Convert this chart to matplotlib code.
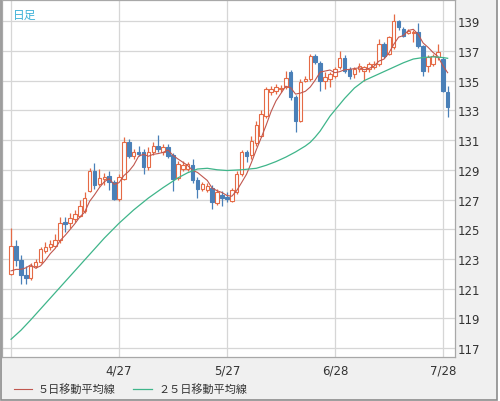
import matplotlib
matplotlib.use("Agg")
import matplotlib.pyplot as plt
from matplotlib.patches import Rectangle
from matplotlib.lines import Line2D

# daily candles (open, high, low, close)
opens = [122.0, 123.9, 122.9, 121.9, 121.7, 122.55, 122.8, 123.55, 123.8, 123.9,
         124.25, 125.5, 125.45, 125.7, 125.9, 126.25, 127.6, 128.95, 128.05, 128.4,
         128.55, 128.15, 127.05, 128.4, 130.85, 129.95, 130.2, 130.2, 129.2, 130.2,
         130.62, 130.2, 130.5, 130.0, 128.45, 129.05, 129.05, 129.3, 128.3, 127.7,
         127.65, 127.8, 126.77, 127.3, 127.2, 126.9, 127.5, 128.7, 130.18, 130.0,
         130.8, 131.3, 132.65, 134.2, 134.3, 134.4, 134.55, 135.55, 133.9, 132.3,
         135.0, 135.1, 136.67, 136.2, 135.0, 135.1, 135.32, 135.9, 136.55, 135.77,
         135.44, 135.77, 135.66, 135.77, 135.9, 136.1, 137.45, 136.8, 137.23, 139.0,
         138.46, 138.2, 138.2, 138.24, 137.34, 136.0, 136.1, 136.56, 136.45, 134.25]
highs = [125.05, 124.25, 123.25, 122.55, 122.7, 123.0, 123.8, 124.13, 124.3, 124.7,
         125.85, 125.8, 126.1, 126.3, 127.0, 127.5, 129.1, 129.45, 129.05, 128.8,
         128.95, 128.3, 128.7, 131.2, 131.05, 130.4, 130.6, 130.4, 130.5, 130.85,
         131.35, 130.7, 130.75, 130.1, 129.6, 129.6, 129.5, 129.7, 128.5, 128.2,
         128.1, 128.0, 127.7, 127.6, 127.5, 127.8, 128.9, 130.3, 130.3, 131.3,
         132.3, 133.0, 134.6, 134.65, 134.8, 134.7, 135.66, 135.7, 134.0, 135.1,
         135.3, 136.8, 136.8, 136.3, 135.6, 135.6, 135.9, 137.0, 136.7, 135.9,
         135.9, 136.15, 136.0, 136.25, 136.3, 137.8, 137.6, 138.0, 139.47, 139.1,
         138.6, 138.45, 138.4, 138.9, 137.4, 136.7, 136.8, 137.45, 136.6, 134.65]
lows = [121.9, 122.5, 121.33, 121.33, 121.6, 122.4, 122.7, 123.4, 123.6, 123.8,
        124.1, 124.8, 125.05, 125.5, 125.8, 126.1, 127.5, 127.7, 127.9, 128.0,
        127.64, 126.97, 126.9, 128.3, 129.8, 129.7, 129.9, 128.72, 129.0, 130.0,
        130.2, 130.0, 129.8, 127.6, 128.3, 128.9, 128.95, 128.1, 127.1, 127.6,
        127.5, 126.37, 126.6, 126.55, 126.8, 126.8, 127.4, 128.6, 129.5, 129.7,
        130.6, 131.2, 132.5, 134.0, 134.1, 134.2, 134.4, 133.7, 131.52, 132.2,
        134.9, 135.0, 136.1, 134.3, 134.4, 134.6, 135.2, 135.8, 135.5, 135.1,
        135.2, 135.6, 135.0, 135.6, 135.8, 136.0, 136.5, 136.7, 137.1, 138.4,
        137.9, 138.1, 137.57, 137.2, 135.3, 135.6, 136.0, 136.4, 134.2, 132.53]
closes = [123.9, 122.9, 121.9, 121.75, 122.55, 122.8, 123.65, 123.8, 124.0, 124.3,
          125.45, 125.35, 125.75, 126.0, 126.55, 127.1, 128.95, 127.95, 128.45, 128.5,
          128.15, 127.05, 128.5, 130.85, 129.95, 130.18, 130.06, 129.17, 130.2, 130.6,
          130.4, 130.5, 129.95, 128.4, 129.4, 129.3, 129.4, 128.3, 127.7, 128.05,
          127.93, 126.8, 127.49, 127.08, 127.04, 127.67, 128.72, 130.18, 129.9, 130.96,
          132.0, 132.75, 134.4, 134.43, 134.55, 134.5, 135.2, 133.9, 132.3, 134.88,
          135.1, 136.67, 136.22, 135.0, 135.22, 135.44, 135.77, 136.55, 135.66, 135.32,
          135.77, 136.0, 135.89, 136.1, 136.1, 137.45, 136.67, 137.9, 139.02, 138.58,
          138.0, 138.35, 138.28, 137.34, 135.66, 136.56, 136.67, 136.9, 134.3, 133.2]

# 5-day moving average, one value per candle
ma5 = [122.2, 122.3, 122.3, 122.4, 122.6, 122.38, 122.53, 122.91, 123.36, 123.71,
       124.24, 124.58, 124.97, 125.37, 125.82, 126.15, 126.87, 127.31, 127.8, 128.19,
       128.4, 128.02, 128.13, 128.61, 128.9, 129.31, 129.91, 130.04, 129.91, 130.04,
       130.09, 130.17, 130.33, 129.97, 129.73, 129.51, 129.29, 128.96, 128.82, 128.55,
       128.28, 127.76, 127.59, 127.47, 127.27, 127.22, 127.6, 128.14, 128.7, 129.49,
       130.35, 131.16, 132.0, 132.91, 133.63, 134.13, 134.62, 134.52, 134.09, 134.16,
       134.28, 134.57, 135.03, 135.57, 135.64, 135.71, 135.53, 135.6, 135.73, 135.75,
       135.81, 135.86, 135.73, 135.82, 135.97, 136.31, 136.44, 136.84, 137.43, 137.92,
       138.03, 138.37, 138.45, 138.11, 137.53, 137.24, 136.9, 136.63, 136.02, 135.53]

# 25-day moving average, read at selected candles
ma25_idx = [0, 2, 4, 7, 10, 13, 16, 19, 22, 25, 28, 31, 34, 36, 38, 40, 42, 44,
            47, 50, 52, 54, 56, 58, 60, 61, 62, 63, 64, 65, 66, 67, 68, 70, 72,
            74, 76, 78, 80, 82, 84, 86, 88, 89]
ma25 = [117.6, 118.2, 118.9, 120.0, 121.1, 122.2, 123.3, 124.4, 125.4, 126.3,
        127.1, 127.8, 128.45, 128.8, 129.05, 129.1, 129.0, 128.95, 129.0, 129.1,
        129.3, 129.55, 129.85, 130.2, 130.6, 130.85, 131.2, 131.6, 132.1, 132.6,
        133.0, 133.4, 133.8, 134.5, 135.0, 135.3, 135.6, 135.9, 136.2, 136.45,
        136.55, 136.6, 136.55, 136.5]

date_idx = [0, 22, 44, 66, 88]
date_labels = ["", "4/27", "5/27", "6/28", "7/28"]
y_ticks = [117, 119, 121, 123, 125, 127, 129, 131, 133, 135, 137, 139]

UP = "#e56a45"
DOWN = "#4a80b8"
MA5_C = "#c0574f"
MA25_C = "#3fb58a"
JP = ["Noto Sans CJK JP", "DejaVu Sans"]

fig = plt.figure(figsize=(5.0, 4.02), dpi=100)
fig.patch.set_facecolor("white")
fig.patches.append(Rectangle((0.001, 0.002), 0.993, 0.997, transform=fig.transFigure,
                             facecolor="#f0f0f0", edgecolor="#8c8c8c", lw=1.2,
                             zorder=-10))

ax = fig.add_axes([0.004, 0.110, 0.906, 0.8875])
ax.set_facecolor("white")

n = len(closes)
xs = list(range(n))
for i in xs:
    o, h, l, c = opens[i], highs[i], lows[i], closes[i]
    up = c >= o
    col = UP if up else DOWN
    lo_b, hi_b = min(o, c), max(o, c)
    ax.vlines(i, l, lo_b, color=col, lw=0.9, zorder=3)
    ax.vlines(i, hi_b, h, color=col, lw=0.9, zorder=3)
    ax.bar(i, max(hi_b - lo_b, 0.04), bottom=lo_b, width=0.72,
           facecolor="white" if up else col, edgecolor=col, lw=0.8, zorder=4)

ax.plot(xs, ma5, color=MA5_C, lw=0.8, zorder=5)
ax.plot(ma25_idx, ma25, color=MA25_C, lw=0.9, zorder=5)

ax.set_xlim(-1.85, 90.5)
ax.set_ylim(116.42, 140.42)
ax.set_xticks(date_idx)
ax.set_xticklabels(date_labels)
ax.set_yticks(y_ticks)
ax.yaxis.tick_right()
ax.tick_params(axis="both", length=0, labelsize=8.5, colors="#333333")
ax.tick_params(axis="y", pad=2)
ax.tick_params(axis="x", pad=5)
ax.grid(True, color="#d6d6d6", lw=0.9)
ax.set_axisbelow(True)
for s in ax.spines.values():
    s.set_color("#a8a8a8")
    s.set_linewidth(0.9)

ax.text(0.024, 0.978, "日足", transform=ax.transAxes, family=JP, fontsize=8.5,
        color="#3fb2d8", ha="left", va="top")

# legend drawn along the bottom band
ly = 1 - 390 / 402
fig.lines.append(Line2D([14 / 500, 32 / 500], [ly, ly], transform=fig.transFigure,
                        color=MA5_C, lw=0.8))
fig.text(38 / 500, ly, "５日移動平均線", family=JP, fontsize=8, color="#333333",
         va="center", ha="left")
fig.lines.append(Line2D([133 / 500, 152 / 500], [ly, ly], transform=fig.transFigure,
                        color=MA25_C, lw=0.9))
fig.text(158 / 500, ly, "２５日移動平均線", family=JP, fontsize=8, color="#333333",
         va="center", ha="left")

fig.savefig("out.png", dpi=100, facecolor=fig.get_facecolor())
